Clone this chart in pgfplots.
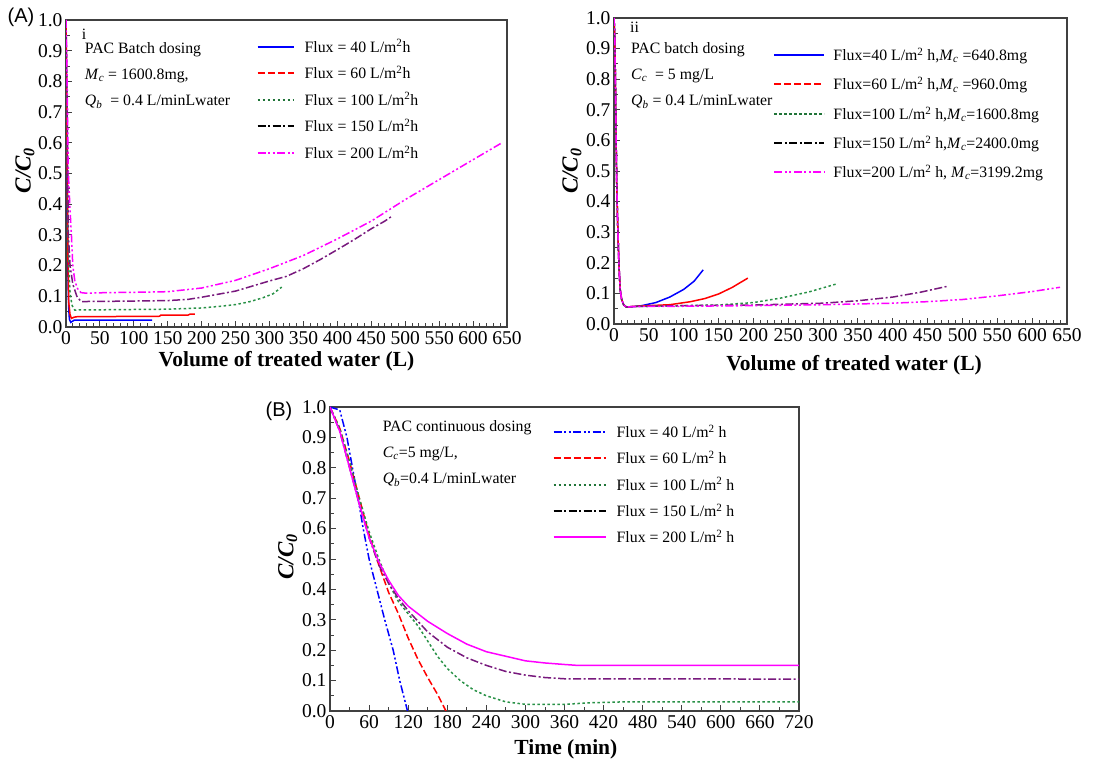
\documentclass[border=0pt]{standalone}
\usepackage{fontspec}
\setmainfont{Liberation Serif}
\newfontfamily\arialfont{Liberation Sans}
\usepackage{pgfplots}
\pgfplotsset{compat=1.18}
\definecolor{cgreen}{RGB}{40,145,70}
\definecolor{cpurple}{RGB}{120,25,125}
\definecolor{cmag}{RGB}{255,0,255}
\newcommand\tickfont{\fontsize{19.5}{21}\selectfont}
\newcommand\labfont{\fontsize{21.5}{24}\selectfont\bfseries}
\newcommand\ylabfont{\fontsize{23}{25}\selectfont\bfseries}
\newcommand\txtfont{\fontsize{15.8}{18}\selectfont}
\newcommand\Msub[2]{\textit{#1}\textsubscript{\textit{#2}}}
\tikzset{
  lw/.style={line width=2pt},
  ldash/.style={dash pattern=on 7pt off 3pt},
  ldot/.style={dash pattern=on 2.5pt off 2.5pt},
  ldd/.style={dash pattern=on 8pt off 2.5pt on 2pt off 2.5pt},
  lddd/.style={dash pattern=on 8pt off 2.5pt on 2pt off 2.5pt on 2pt off 2.5pt},
}
\pgfplotsset{
  panel/.style={
    scale only axis,
    axis line style={line width=1.1pt, black!75},
    tick align=inside,
    tick pos=left,
    major tick length=6pt,
    minor tick length=3.5pt,
    every tick/.style={black!75, line width=0.9pt},
    ymin=0, ymax=1,
    ytick={0,0.1,0.2,0.3,0.4,0.5,0.6,0.7,0.8,0.9,1},
    minor y tick num=1,
    tick label style={font=\tickfont},
    xticklabel style={yshift=-1.5pt},
    /pgf/number format/assume math mode=true,
    yticklabel style={/pgf/number format/.cd, fixed, fixed zerofill, precision=1},
    ylabel={\textit{C/C\textsubscript{0}}},
    ylabel style={font=\ylabfont, anchor=center},
    xlabel style={font=\labfont, anchor=center},
    legend style={draw=none, fill=none, font=\txtfont, row sep=5pt, column sep=8pt, cells={anchor=west}, anchor=north west},
    every axis plot/.append style={line width=1.5pt},
  },
  limg/.style={legend image code/.code={\draw[##1] (0pt,0pt) -- (#1,0pt);}},
}
\begin{document}
\begin{tikzpicture}
\useasboundingbox (0,0) rectangle (1105pt,762pt);
% ---------------- Panel A (i)
\begin{axis}[panel, at={(66pt,435pt)}, anchor=south west,
  width=441pt, height=307pt,
  xmin=0, xmax=650, xtick={0,50,...,650}, minor x tick num=4,
  xlabel={Volume of treated water (L)},
  xlabel style={at={(axis description cs:0.5,-0.11)}},
  ylabel style={at={(axis description cs:-0.093,0.51)}},
  legend style={at={(0.425,0.95)}, row sep=8.5pt, column sep=8pt},
  limg=36pt,
]
\addlegendimage{blue, solid, lw}\addlegendentry{Flux = 40 L/m\textsuperscript{2}h}
\addlegendimage{red, ldash, lw}\addlegendentry{Flux = 60 L/m\textsuperscript{2}h}
\addlegendimage{cgreen!80!black, ldot, lw}\addlegendentry{Flux = 100 L/m\textsuperscript{2}h}
\addlegendimage{black, ldd, lw}\addlegendentry{Flux = 150 L/m\textsuperscript{2}h}
\addlegendimage{cmag, lddd, lw}\addlegendentry{Flux = 200 L/m\textsuperscript{2}h}
\addplot[blue, forget plot] coordinates {(0,1.0) (1,0.7) (2,0.4) (3,0.15) (4,0.06) (5,0.025) (7,0.015) (9,0.018) (12,0.022) (20,0.022) (60,0.022) (100,0.022) (127,0.022)};
\addplot[red, forget plot] coordinates {(0,1.0) (1,0.75) (2,0.45) (3,0.2) (4,0.08) (6,0.04) (8,0.028) (12,0.032) (18,0.034) (60,0.034) (138,0.035) (140,0.039) (180,0.039) (183,0.042) (190,0.042)};
\addplot[cgreen, ldot, forget plot] coordinates {(0,1.0) (1,0.8) (2,0.5) (3,0.3) (4,0.2) (6,0.11) (9,0.07) (13,0.055) (20,0.056) (50,0.056) (100,0.057) (150,0.058) (200,0.062) (230,0.068) (250,0.073) (270,0.082) (290,0.095) (305,0.108) (318,0.13)};
\addplot[cpurple, ldd, forget plot] coordinates {(0,1.0) (1,0.85) (2,0.65) (3.5,0.3) (6,0.2) (10,0.14) (16,0.1) (22,0.083) (30,0.083) (80,0.084) (150,0.086) (180,0.09) (200,0.097) (250,0.117) (300,0.15) (325,0.165) (350,0.19) (375,0.22) (400,0.252) (425,0.285) (450,0.32) (470,0.345) (481,0.362)};
\addplot[cmag, lddd, forget plot] coordinates {(0,1.0) (1,0.9) (2,0.75) (3.5,0.5) (6,0.38) (8,0.3) (10,0.2) (13,0.15) (17,0.125) (22,0.112) (30,0.11) (60,0.112) (100,0.113) (150,0.115) (200,0.127) (250,0.152) (300,0.19) (350,0.233) (400,0.287) (450,0.345) (500,0.415) (550,0.48) (600,0.545) (641,0.598)};
\node[anchor=west, font=\txtfont] at (rel axis cs:0.028,0.955) {i};
\node[anchor=west, font=\txtfont] at (rel axis cs:0.035,0.902) {PAC Batch dosing};
\node[anchor=west, font=\txtfont] at (rel axis cs:0.035,0.818) {\Msub{M}{c} = 1600.8mg,};
\node[anchor=west, font=\txtfont] at (rel axis cs:0.035,0.733) {\Msub{Q}{b}\ \ = 0.4 L/minLwater};
\end{axis}
% ---------------- Panel A (ii)
\begin{axis}[panel, at={(614pt,438pt)}, anchor=south west,
  width=453pt, height=306pt,
  xmin=0, xmax=650, xtick={0,50,...,650}, minor x tick num=4,
  xlabel={Volume of treated water (L)},
  xlabel style={at={(axis description cs:0.53,-0.135)}},
  ylabel style={at={(axis description cs:-0.093,0.5)}},
  legend style={at={(0.345,0.915)}, row sep=11.2pt, column sep=6pt},
  limg=50pt,
]
\addlegendimage{blue, solid, lw}\addlegendentry{Flux=40 L/m\textsuperscript{2} h,\Msub{M}{c} =640.8mg}
\addlegendimage{red, ldash, lw}\addlegendentry{Flux=60 L/m\textsuperscript{2} h,\Msub{M}{c} =960.0mg}
\addlegendimage{cgreen!80!black, ldot, lw}\addlegendentry{Flux=100 L/m\textsuperscript{2} h,\Msub{M}{c}=1600.8mg}
\addlegendimage{black, ldd, lw}\addlegendentry{Flux=150 L/m\textsuperscript{2} h,\Msub{M}{c}=2400.0mg}
\addlegendimage{cmag, lddd, lw}\addlegendentry{Flux=200 L/m\textsuperscript{2} h, \Msub{M}{c}=3199.2mg}
\addplot[blue, forget plot] coordinates {(0,1.0) (1,0.95) (2,0.8) (3,0.6) (4,0.45) (5,0.35) (6,0.27) (7,0.2) (8,0.15) (9,0.11) (11,0.08) (14,0.062) (18,0.055) (25,0.056) (40,0.06) (60,0.07) (80,0.088) (100,0.113) (115,0.14) (128,0.177)};
\addplot[red, forget plot] coordinates {(0,1.0) (1,0.95) (2,0.8) (3,0.6) (4,0.45) (5,0.35) (6,0.27) (7,0.2) (8,0.15) (9,0.11) (11,0.08) (14,0.062) (18,0.055) (25,0.057) (50,0.06) (80,0.063) (110,0.073) (130,0.083) (150,0.098) (170,0.12) (192,0.15)};
\addplot[cgreen, ldot, forget plot] coordinates {(0,1.0) (1,0.95) (2,0.8) (3,0.6) (4,0.45) (5,0.35) (6,0.27) (7,0.2) (8,0.15) (9,0.11) (11,0.08) (14,0.062) (18,0.055) (25,0.057) (100,0.06) (150,0.062) (200,0.07) (240,0.085) (280,0.105) (318,0.13)};
\addplot[cpurple, ldd, forget plot] coordinates {(0,1.0) (1,0.95) (2,0.8) (3,0.6) (4,0.45) (5,0.35) (6,0.27) (7,0.2) (8,0.15) (9,0.11) (11,0.08) (14,0.062) (18,0.055) (25,0.057) (100,0.06) (200,0.062) (300,0.068) (350,0.076) (400,0.088) (440,0.104) (480,0.124)};
\addplot[cmag, lddd, forget plot] coordinates {(0,1.0) (1,0.95) (2,0.8) (3,0.6) (4,0.45) (5,0.35) (6,0.27) (7,0.2) (8,0.15) (9,0.11) (11,0.08) (14,0.062) (18,0.055) (25,0.057) (100,0.058) (200,0.06) (300,0.063) (400,0.068) (450,0.073) (500,0.08) (550,0.092) (600,0.106) (640,0.12)};
\node[anchor=west, font=\txtfont] at (rel axis cs:0.028,0.97) {ii};
\node[anchor=west, font=\txtfont] at (rel axis cs:0.03,0.895) {PAC batch dosing};
\node[anchor=west, font=\txtfont] at (rel axis cs:0.03,0.81) {\Msub{C}{c}\ \ = 5 mg/L};
\node[anchor=west, font=\txtfont] at (rel axis cs:0.03,0.725) {\Msub{Q}{b} = 0.4 L/minLwater};
\end{axis}
% ---------------- Panel B
\begin{axis}[panel, at={(330pt,51pt)}, anchor=south west,
  width=469pt, height=304pt,
  xmin=0, xmax=720, xtick={0,60,...,720}, minor x tick num=1,
  xlabel={Time (min)},
  xlabel style={at={(axis description cs:0.503,-0.125)}},
  ylabel style={at={(axis description cs:-0.09,0.507)}},
  legend style={at={(0.468,0.955)}, row sep=8.3pt, column sep=8pt},
  limg=52pt,
]
\addlegendimage{blue, lddd, lw}\addlegendentry{Flux = 40 L/m\textsuperscript{2} h}
\addlegendimage{red, ldash, lw}\addlegendentry{Flux = 60 L/m\textsuperscript{2} h}
\addlegendimage{cgreen!80!black, ldot, lw}\addlegendentry{Flux = 100 L/m\textsuperscript{2} h}
\addlegendimage{black, ldd, lw}\addlegendentry{Flux = 150 L/m\textsuperscript{2} h}
\addlegendimage{cmag, solid, lw}\addlegendentry{Flux = 200 L/m\textsuperscript{2} h}
\addplot[blue, lddd, forget plot] coordinates {(0,1.0) (15,0.99) (26,0.9) (43,0.7) (51,0.6) (60,0.5) (72,0.4) (84,0.3) (97,0.2) (107,0.1) (119,0)};
\addplot[red, ldash, forget plot] coordinates {(0,1.0) (15,0.93) (30,0.82) (45,0.7) (60,0.58) (75,0.48) (90,0.39) (105,0.32) (120,0.24) (135,0.17) (150,0.11) (165,0.055) (178,0)};
\addplot[cgreen, ldot, forget plot] coordinates {(0,1.0) (15,0.93) (30,0.82) (45,0.7) (60,0.59) (75,0.5) (90,0.42) (105,0.36) (120,0.32) (135,0.28) (150,0.23) (165,0.18) (180,0.14) (200,0.1) (220,0.07) (240,0.05) (270,0.03) (300,0.022) (360,0.022) (400,0.027) (450,0.03) (720,0.03)};
\addplot[cpurple, ldd, forget plot] coordinates {(0,1.0) (15,0.92) (30,0.8) (45,0.68) (60,0.57) (75,0.48) (90,0.42) (105,0.37) (120,0.33) (150,0.26) (180,0.21) (210,0.175) (240,0.15) (270,0.13) (300,0.118) (330,0.11) (360,0.106) (720,0.105)};
\addplot[cmag, forget plot] coordinates {(0,1.0) (15,0.92) (30,0.8) (45,0.68) (60,0.57) (75,0.49) (90,0.43) (105,0.38) (120,0.345) (150,0.295) (180,0.255) (210,0.22) (240,0.195) (270,0.18) (300,0.165) (330,0.158) (360,0.153) (380,0.15) (720,0.15)};
\node[anchor=west, font=\txtfont] at (rel axis cs:0.105,0.931) {PAC continuous dosing};
\node[anchor=west, font=\txtfont] at (rel axis cs:0.105,0.845) {\Msub{C}{c}=5 mg/L,};
\node[anchor=west, font=\txtfont] at (rel axis cs:0.105,0.76) {\Msub{Q}{b}=0.4 L/minLwater};
\end{axis}
\node[font=\arialfont\fontsize{20}{24}\selectfont] at (21pt,745pt) {(A)};
\node[font=\arialfont\fontsize{20}{24}\selectfont] at (279pt,351pt) {(B)};
\end{tikzpicture}
\end{document}
